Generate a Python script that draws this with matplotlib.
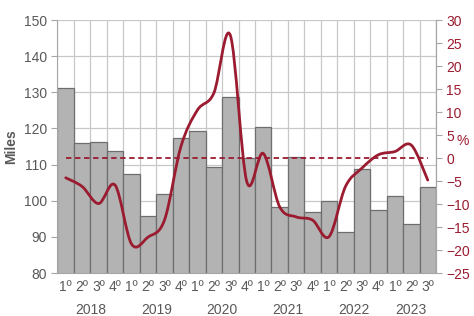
import matplotlib
matplotlib.use("Agg")
import matplotlib.pyplot as plt
from matplotlib.path import Path
from matplotlib.patches import PathPatch
import matplotlib.transforms as mtransforms

plt.rcParams['font.family'] = ['Liberation Sans', 'DejaVu Sans']

quarters = ["1º", "2º", "3º", "4º"] * 5 + ["1º", "2º", "3º"]
years = ["2018", "2019", "2020", "2021", "2022", "2023"]
miles = [131.1, 115.9, 116.2, 113.8,
         107.4, 95.9, 102.0, 117.3,
         119.2, 109.2, 128.6, 111.7,
         120.5, 98.2, 112.0, 96.8,
         99.9, 91.4, 108.9, 97.3,
         101.2, 93.7, 103.8]
pct = [-4.3, -6.2, -9.9, -5.9,
       -18.7, -17.2, -13.5, 2.5,
       10.4, 14.1, 26.7, -5.1,
       1.0, -10.6, -12.8, -13.5,
       -17.1, -6.2, -2.2, 0.7,
       1.4, 2.8, -4.8]

RED = "#9B1B30"
GRAY_TXT = "#595959"

fig = plt.figure(figsize=(4.74, 3.16), dpi=100)
ax = fig.add_axes([0.1213, 0.136, 0.7985, 0.8007])
n = len(miles)
xs = list(range(n))

ax.bar(xs, miles, width=1.0, color="#B3B3B3", edgecolor="#6E6E6E", linewidth=0.9, zorder=2)
ax.set_xlim(-0.5, n - 0.5)
ax.set_ylim(80, 150)
ax.set_yticks(range(80, 151, 10))
ax.set_xticks([])
for xb in [i - 0.5 for i in range(n + 1)]:
    ax.axvline(xb, color="#C8C8C8", linewidth=0.9, zorder=0)
for yv in range(90, 151, 10):
    ax.axhline(yv, color="#C8C8C8", linewidth=0.9, zorder=0)
ax.set_axisbelow(True)

ax.spines["top"].set_visible(False)
for s in ["left", "right", "bottom"]:
    ax.spines[s].set_color("#A6A6A6")
ax.tick_params(axis="y", colors="#A6A6A6", labelcolor=GRAY_TXT, labelsize=10, length=4)
ax.set_ylabel("Miles", fontsize=10, fontweight="bold", color=GRAY_TXT, labelpad=4)

# quarter labels and years
trans = mtransforms.blended_transform_factory(ax.transData, fig.transFigure)
for i, q in enumerate(quarters):
    ax.text(i, 1 - 287 / 316, q, transform=trans, ha="center", va="center",
            fontsize=10, color=GRAY_TXT)
for k, y in enumerate(years):
    start = 4 * k
    end = min(start + 3, n - 1)
    ax.text((start + end) / 2, 1 - 309.5 / 316, y, transform=trans, ha="center",
            va="center", fontsize=10, color=GRAY_TXT)

ax2 = ax.twinx()
ax2.set_ylim(-25, 30)
ax2.set_yticks(range(-25, 31, 5))
ax2.tick_params(axis="y", colors="#A6A6A6", labelcolor=RED, labelsize=10, length=4)
for s in ["top", "left", "bottom"]:
    ax2.spines[s].set_visible(False)
ax2.spines["right"].set_color("#A6A6A6")
ax2.set_xlim(-0.5, n - 0.5)
fig.text(463 / 474, 1 - 141 / 316, "%", fontsize=10, color=RED, ha="center", va="center")

ax2.hlines(0, 0, n - 1, colors=RED, linestyles=(0, (3, 2)), linewidth=1.3, zorder=3)

# smoothed line (Catmull-Rom as Bezier segments)
verts = [(xs[0], pct[0])]
codes = [Path.MOVETO]
t = 1 / 6
for i in range(n - 1):
    p0 = (xs[max(i - 1, 0)], pct[max(i - 1, 0)])
    p1 = (xs[i], pct[i])
    p2 = (xs[i + 1], pct[i + 1])
    p3 = (xs[min(i + 2, n - 1)], pct[min(i + 2, n - 1)])
    c1 = (p1[0] + (p2[0] - p0[0]) * t, p1[1] + (p2[1] - p0[1]) * t)
    c2 = (p2[0] - (p3[0] - p1[0]) * t, p2[1] - (p3[1] - p1[1]) * t)
    verts += [c1, c2, p2]
    codes += [Path.CURVE4] * 3
patch = PathPatch(Path(verts, codes), facecolor="none", edgecolor=RED, linewidth=2.0,
                  zorder=4, capstyle="round", joinstyle="round")
ax2.add_patch(patch)

fig.savefig("out.png", dpi=100)
